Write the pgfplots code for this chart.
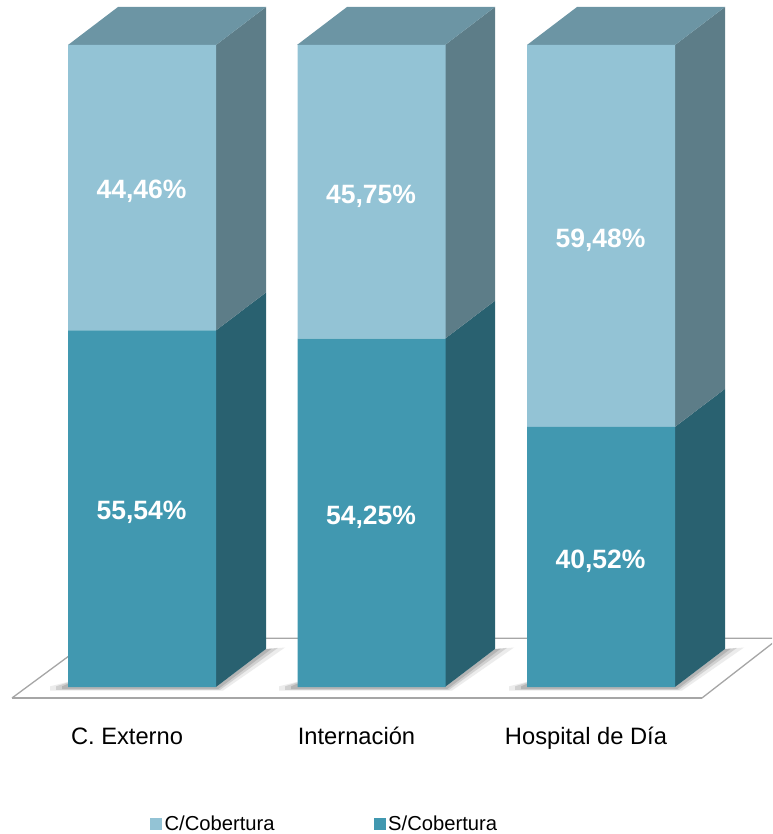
\documentclass[border=0pt]{standalone}
\usepackage{pgfplots}
\pgfplotsset{compat=1.18}
\usepackage{fontspec}
\setmainfont{Liberation Sans}
\definecolor{cfront}{HTML}{93C3D5}
\definecolor{sfront}{HTML}{4198B0}
\definecolor{cside}{HTML}{5D7D88}
\definecolor{ctop}{HTML}{6C95A4}
\definecolor{sside}{HTML}{296170}
\definecolor{floorline}{HTML}{A6A6A6}
\begin{document}
\begin{tikzpicture}
\useasboundingbox (0,0) rectangle (772pt,834pt);
% floor, shadows and the depth faces: x in pixels, y in percent
\begin{axis}[at={(0pt,114pt)},anchor=south west,scale only axis,width=772pt,height=720pt,
  xmin=0,xmax=772,ymin=-5.14,ymax=107.01,hide axis]
\addplot[draw=floorline,line width=1.3pt,fill=white,forget plot] coordinates {(12,-1.71)(702,-1.71)(779,7.6)(93,7.6)(12,-1.71)};
\addplot[draw=floorline,line width=2pt,forget plot] coordinates {(12,-1.71)(702,-1.71)};
% shadows
\addplot[fill=gray,draw=none,opacity=.15,forget plot] coordinates {(50,.1)(68,.8)(216,0)(266,5.9)(285,6.15)(223,-.55)(50,-.55)};
\addplot[fill=gray,draw=none,opacity=.25,forget plot] coordinates {(56,.1)(68,.7)(216,0)(266,5.9)(278,6.1)(220,-.45)(56,-.45)};
\addplot[fill=gray,draw=none,opacity=.35,forget plot] coordinates {(62,.1)(68,.5)(216,0)(266,5.9)(272,6.0)(218,-.35)(62,-.35)};
\addplot[fill=gray,draw=none,opacity=.15,forget plot] coordinates {(279,.1)(297,.8)(445,0)(495,5.9)(514,6.15)(452,-.55)(279,-.55)};
\addplot[fill=gray,draw=none,opacity=.25,forget plot] coordinates {(285,.1)(297,.7)(445,0)(495,5.9)(507,6.1)(449,-.45)(285,-.45)};
\addplot[fill=gray,draw=none,opacity=.35,forget plot] coordinates {(291,.1)(297,.5)(445,0)(495,5.9)(501,6.0)(447,-.35)(291,-.35)};
\addplot[fill=gray,draw=none,opacity=.15,forget plot] coordinates {(509,.1)(527,.8)(675,0)(725,5.9)(744,6.15)(682,-.55)(509,-.55)};
\addplot[fill=gray,draw=none,opacity=.25,forget plot] coordinates {(515,.1)(527,.7)(675,0)(725,5.9)(737,6.1)(679,-.45)(515,-.45)};
\addplot[fill=gray,draw=none,opacity=.35,forget plot] coordinates {(521,.1)(527,.5)(675,0)(725,5.9)(731,6.0)(677,-.35)(521,-.35)};
% C. Externo
\addplot[fill=sside,draw=none,forget plot] coordinates {(216,0)(266,5.92)(266,61.46)(216,55.54)};
\addplot[fill=cside,draw=none,forget plot] coordinates {(216,55.54)(266,61.46)(266,105.92)(216,100)};
\addplot[fill=ctop,draw=none,forget plot] coordinates {(68,100)(118,105.92)(266,105.92)(216,100)};
% Internacion
\addplot[fill=sside,draw=none,forget plot] coordinates {(445,0)(495,5.92)(495,60.17)(445,54.25)};
\addplot[fill=cside,draw=none,forget plot] coordinates {(445,54.25)(495,60.17)(495,105.92)(445,100)};
\addplot[fill=ctop,draw=none,forget plot] coordinates {(297,100)(347,105.92)(495,105.92)(445,100)};
% Hospital de Dia
\addplot[fill=sside,draw=none,forget plot] coordinates {(675,0)(725,5.92)(725,46.44)(675,40.52)};
\addplot[fill=cside,draw=none,forget plot] coordinates {(675,40.52)(725,46.44)(725,105.92)(675,100)};
\addplot[fill=ctop,draw=none,forget plot] coordinates {(527,100)(577,105.92)(725,105.92)(675,100)};
\end{axis}
% front faces, labels, legend
\begin{axis}[at={(0pt,114pt)},anchor=south west,scale only axis,width=772pt,height=720pt,
  xmin=-0.5534,xmax=2.8105,ymin=-5.14,ymax=107.01,
  ybar stacked,bar width=148pt,bar shift=15pt,
  axis line style={draw=none},major tick length=0pt,
  ytick=\empty,xtick={0,1,2},xticklabels={C. Externo,Internación,Hospital de Día},
  xticklabel style={font=\fontsize{23.7}{26}\selectfont,text=black,yshift=-4pt},
  clip=false,
  nodes near coords={\pgfmathprintnumber[fixed,fixed zerofill,precision=2,use comma,assume math mode=true]{\pgfplotspointmeta}\%},
  nodes near coords style={font=\fontsize{26.5}{30}\bfseries,text=white,anchor=center,yshift=-4pt,xshift=-0.5pt},
  legend columns=2,
  legend style={draw=none,fill=none,at={(150pt,-103.5pt)},anchor=west,inner sep=0pt,outer sep=0pt,
    font=\fontsize{20.2}{24}\selectfont,/tikz/every even column/.style={column sep=97pt}},
  legend image code/.code={\fill[#1] (0pt,-5.5pt) rectangle (11pt,5.5pt);\path (12.2pt,0pt);},
]
\addplot[fill=sfront,draw=none,forget plot] coordinates {(0,55.54)(1,54.25)(2,40.52)};
\addplot[fill=cfront,draw=none,forget plot] coordinates {(0,44.46)(1,45.75)(2,59.48)};
\addlegendimage{cfront}
\addlegendentry{C/Cobertura}
\addlegendimage{sfront}
\addlegendentry{S/Cobertura}
\end{axis}
\end{tikzpicture}
\end{document}
